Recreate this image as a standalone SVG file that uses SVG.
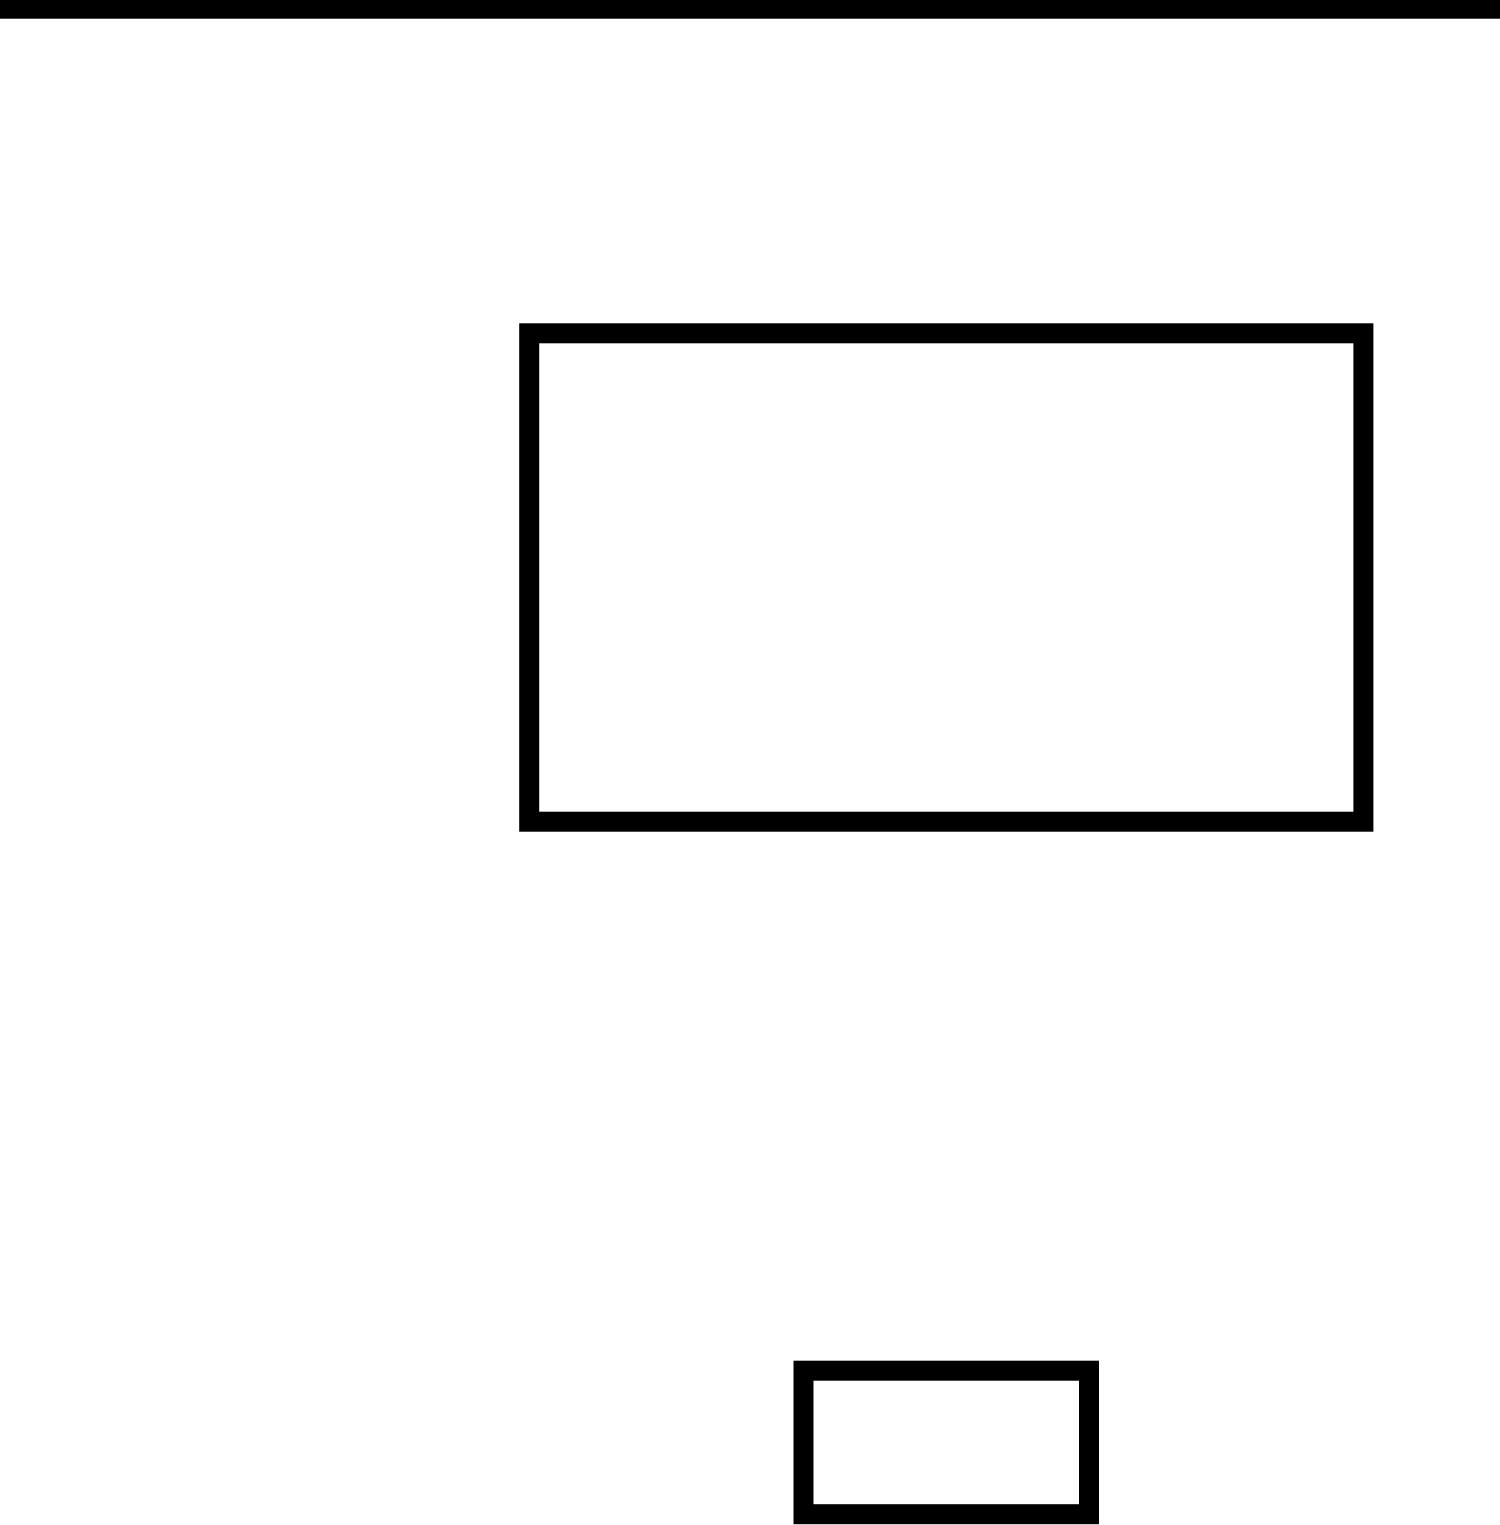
<svg xmlns="http://www.w3.org/2000/svg" width="1500" height="1525" viewBox="0 0 1500 1525">
<style>
.box{fill:none;stroke:#000;stroke-width:20}
</style>
<rect x="0" y="0" width="1500" height="1525" fill="#fff"/>
<g id="top-bar"><rect x="0" y="0" width="1500" height="18.7" fill="#000"/></g>
<g id="node-large"><rect class="box" x="529.2" y="333.3" width="834.2" height="488.4"/></g>
<g id="node-small"><rect class="box" x="803.5" y="1370.7" width="285.5" height="143.5"/></g>
<g id="connectors"></g>
</svg>
